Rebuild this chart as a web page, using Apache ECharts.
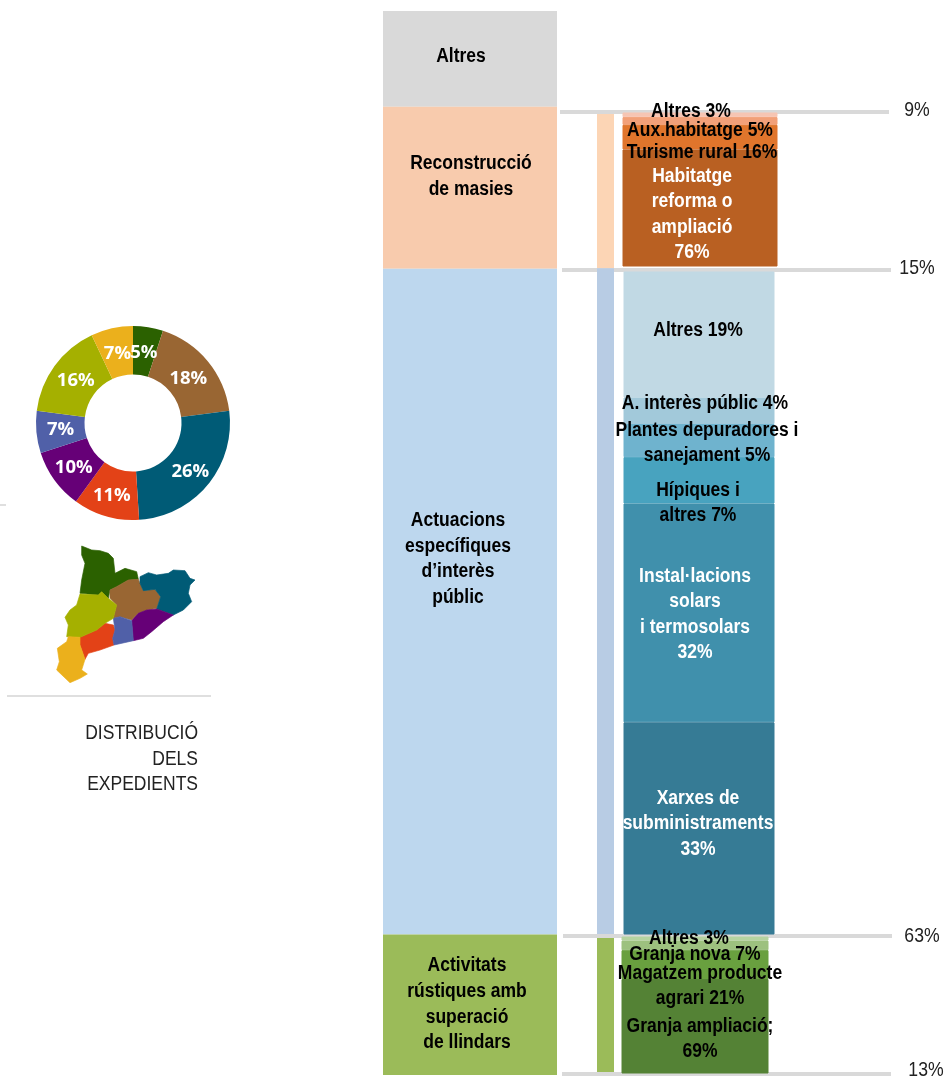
<!DOCTYPE html>
<html><head><meta charset="utf-8">
<style>html,body{margin:0;padding:0;background:#fff}#c{width:946px;height:1077px}</style>
<script src="https://cdn.jsdelivr.net/npm/echarts@6/dist/echarts.min.js"></script>
</head><body><div id="c"></div>
<script>
// ---- data (bars listed top to bottom) ----
const pieLabels = ['Alt Pirineu','Comarques centrals','Girona','Camp de Tarragona','Metropolità','Penedès','Ponent','Terres de l\'Ebre'];
const pieValues = [5,18,26,11,10,7,16,7];
const pieColors = ['#2B6100','#996633','#005B76','#E34217','#660077','#5060A8','#A5B000','#EBB01C'];

const mainLabels = ['Altres','Reconstrucció\nde masies','Actuacions\nespecífiques\nd’interès\npúblic','Activitats\nrústiques amb\nsuperació\nde llindars'];
const mainValues = [9.0,15.2,62.5,13.2];
const mainColors = ['#D9D9D9','#F8CBAD','#BDD7EE','#9BBB59'];

const shareLabels = ['9%','15%','63%','13%'];

const thinUpperValues = [15,64.8];
const thinUpperColors = ['#FCD5B5','#B8CCE4'];
const thinLowerValues = [13];
const thinLowerColors = ['#9BBB59'];

const masiesLabels = ['Altres 3%','Aux.habitatge 5%','Turisme rural 16%','Habitatge\nreforma o\nampliació\n76%'];
const masiesValues = [3,5,16,76];
const masiesColors = ['#F6C5B3','#F2A079','#E0752C','#B96022'];

const publicLabels = ['Altres 19%','A. interès públic 4%','Plantes depuradores i\nsanejament 5%','Hípiques i\naltres 7%','Instal·lacions\nsolars\ni termosolars\n32%','Xarxes de\nsubministraments\n33%'];
const publicValues = [19,4,5,7,33,32];
const publicColors = ['#C1D9E4','#A2C9DA','#6FB3CE','#48A3BF','#4090AC','#367B95'];

const rusticLabels = ['Altres 3%','Granja nova 7%','Magatzem producte\nagrari 21%','Granja ampliació;\n69%'];
const rusticValues = [3,7,21,69];
const rusticColors = ['#B6D3A0','#9DC17F','#69A03F','#548235'];

// ---- layout & style ----
const FONT = '"Liberation Sans",Arial,sans-serif';
const LINE = '#D9D9D9';
const NARROW = 0.875;
const TEXT_DY = 1.5;
const grids = [], xAxes = [], yAxes = [], series = [];

function addStack(box, values, colors, labels, offsets, txtColors, lh, seam){
  const g = grids.length;
  grids.push({left:box[0], top:box[1], width:box[2], height:box[3], containLabel:false});
  xAxes.push({type:'category', gridIndex:g, data:['a'], show:false});
  yAxes.push({type:'value', gridIndex:g, show:false, min:0, max:values.reduce((a,b)=>a+b,0), inverse:true});
  values.forEach((v,i)=>{
    series.push({
      type:'bar', xAxisIndex:g, yAxisIndex:g, stack:'s'+g, barWidth:'100%', silent:true, z:2,
      data:[v], itemStyle:seam?{color:colors[i], borderColor:colors[i], borderWidth:1}:{color:colors[i]}, label:{show:false}
    });
  });
  if(!labels) return;
  // condensed labels, placed on each segment's mid-point through the axis scale
  let run = 0;
  const mids = values.map(v=>{const m=run+v/2; run+=v; return m;});
  series.push({
    type:'custom', xAxisIndex:g, yAxisIndex:g, silent:true, z:5, clip:false,
    data:mids.map(m=>['a',m]), encode:{x:0,y:1},
    renderItem(params, api){
      const i = params.dataIndex;
      const pt = api.coord(['a', api.value(1)]);
      return {type:'text', x:pt[0]+offsets[i][0], y:pt[1]+offsets[i][1]+TEXT_DY, scaleX:NARROW, silent:true,
        style:{text:labels[i], fill:txtColors?txtColors[i]:'#000', font:'bold 20px '+FONT,
          lineHeight:lh, textAlign:'center', textVerticalAlign:'middle'}};
    }
  });
}

addStack([383,11,174,1064], mainValues, mainColors, mainLabels, [[-9,-4],[1,-13],[-12,-44],[-3,-2]], null, 25.6, false);
addStack([597,114,17,820], thinUpperValues, thinUpperColors);
addStack([597,938,17,134], thinLowerValues, thinLowerColors);
addStack([622.5,112.5,155,154], masiesValues, masiesColors, masiesLabels, [[-9,-4.5],[0,8.5],[2,14],[-8,5]], ['#000','#000','#000','#fff'], 25.5, true);
addStack([623.5,271.5,151,663], publicValues, publicColors, publicLabels, [[-1,-6],[6,-9],[8,1],[-1,21],[-4,0],[-1,-6]], ['#000','#000','#000','#000','#fff','#fff'], 25.6, true);
addStack([621.5,936.5,147,137], rusticValues, rusticColors, rusticLabels, [[-6,-2],[0,8],[5,20],[5,11]], null, 25, true);

const pieLabelOffsets = [[-1,5],[-3,4],[-1,0],[0,0],[2,0],[3,0],[4,2],[1,5]];
series.push({
  type:'pie', silent:true, center:[133,423], radius:[48.5,97], startAngle:90, clockwise:true,
  avoidLabelOverlap:false, labelLayout:{hideOverlap:false},
  data:pieValues.map((v,i)=>({name:pieLabels[i], value:v, itemStyle:{color:pieColors[i]}, label:{offset:pieLabelOffsets[i]}})),
  label:{show:true, position:'inside', formatter:p=>p.value+'%', color:'#fff', fontFamily:'"Open Sans",sans-serif', fontWeight:'bold', fontSize:18.5},
  labelLine:{show:false}
});

const ruleSpans = [[560,889,112],[562,891,270],[563,892,936],[562,891,1074]];
const sharePos = [[917,110.5],[917,268.5],[922,936.5],[926,1070.5]];
const graphic = [];
ruleSpans.forEach(r=>graphic.push({type:'line', silent:true, z:0, shape:{x1:r[0],y1:r[2],x2:r[1],y2:r[2]}, style:{stroke:LINE,lineWidth:4}}));
shareLabels.forEach((t,i)=>graphic.push({type:'text', silent:true, x:sharePos[i][0], y:sharePos[i][1], scaleX:0.84, originX:0, originY:0,
  style:{text:t, fill:'#222', font:'21px '+FONT, textAlign:'center', textVerticalAlign:'middle'}}));
graphic.push({type:'line', silent:true, shape:{x1:7,y1:696,x2:211,y2:696}, style:{stroke:'#BFBFBF',lineWidth:1}});
graphic.push({type:'line', silent:true, shape:{x1:0,y1:505,x2:6,y2:505}, style:{stroke:'#BFBFBF',lineWidth:1}});
['DISTRIBUCIÓ','DELS','EXPEDIENTS'].forEach((t,i)=>graphic.push({type:'text', silent:true, x:198, y:733.5+25.5*i, scaleX:0.875,
  style:{text:t, fill:'#222', font:'20px '+FONT, textAlign:'right', textVerticalAlign:'middle'}}));

// region icon outlines, in a local drawing space
const regionOutlines = [
 [[245,48],[275,60],[300,62],[325,70],[340,85],[345,130],[375,115],[410,125],[415,148],[385,150],[350,170],[330,180],[325,205],[305,185],[295,195],[240,190],[245,150],[255,100],[245,75]],
 [[330,180],[350,170],[385,150],[415,148],[420,160],[430,182],[465,178],[482,200],[470,235],[440,240],[415,250],[395,270],[360,260],[340,265],[350,225],[330,205]],
 [[420,140],[445,128],[470,135],[505,130],[520,120],[555,122],[570,145],[585,150],[570,165],[565,190],[575,215],[550,240],[520,255],[470,237],[482,200],[465,178],[430,182],[420,160]],
 [[315,280],[340,285],[345,300],[338,325],[342,345],[300,360],[265,370],[255,388],[240,345],[240,322],[290,300]],
 [[395,272],[415,250],[440,240],[470,237],[520,255],[490,275],[455,305],[430,325],[400,332]],
 [[340,265],[360,260],[395,272],[400,332],[342,345],[338,325],[345,300]],
 [[240,192],[295,195],[305,185],[325,205],[350,225],[340,265],[315,280],[290,300],[240,322],[200,320],[205,285],[195,262],[210,240],[230,225]],
 [[205,320],[240,322],[240,345],[255,388],[245,420],[262,432],[240,445],[210,458],[170,420],[178,395],[172,355],[200,335]]
];
graphic.push({type:'group', silent:true, x:0, y:530, scaleX:1/3, scaleY:1/3,
  children:regionOutlines.map((pts,i)=>({type:'polygon', shape:{points:pts}, style:{fill:pieColors[i], stroke:pieColors[i], lineWidth:2}}))});

const chart = echarts.init(document.getElementById('c'), null, {renderer:'canvas'});
chart.setOption({animation:false, backgroundColor:'#fff', tooltip:{show:false}, legend:{show:false},
  grid:grids, xAxis:xAxes, yAxis:yAxes, series, graphic});
</script></body></html>
